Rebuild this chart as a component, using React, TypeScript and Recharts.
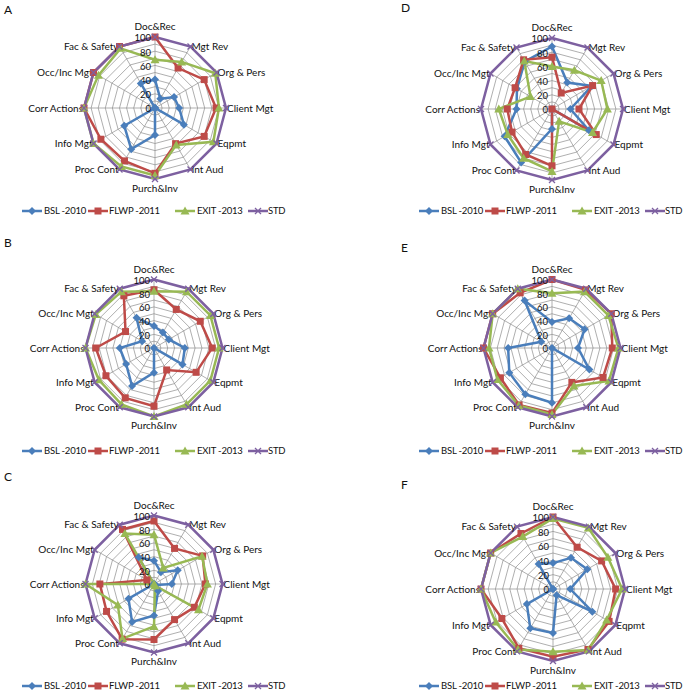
import React from "react";
import { RadarChart, Radar, PolarGrid, PolarAngleAxis, PolarRadiusAxis } from "recharts";

// audit areas around each radar, clockwise from the top
const categories = [
  "Doc&Rec", "Mgt Rev", "Org & Pers", "Client Mgt", "Eqpmt", "Int Aud",
  "Purch&Inv", "Proc Cont", "Info Mgt", "Corr Actions", "Occ/Inc Mgt", "Fac & Safety",
];
const seriesNames = ["BSL -2010", "FLWP -2011", "EXIT -2013", "STD"];
const radiusTicks = [0, 20, 40, 60, 80, 100];

// scores
const aBsl = [40, 15, 31, 34, 47, 0, 38, 67, 50, 0, 0, 40];
const aFlwp = [100, 65, 80, 86, 80, 58, 92, 86, 88, 100, 100, 100];
const aExit = [68, 75, 98, 90, 95, 60, 95, 95, 100, 100, 92, 97];

const bBsl = [32, 26, 25, 45, 48, 0, 36, 64, 47, 50, 20, 51];
const bFlwp = [85, 65, 78, 85, 71, 37, 85, 84, 81, 85, 48, 88];
const bExit = [83, 95, 95, 95, 95, 95, 100, 95, 93, 100, 98, 95];

const cBsl = [34, 20, 40, 26, 3, 12, 46, 64, 43, 0, 0, 45];
const cFlwp = [92, 60, 82, 75, 68, 60, 81, 93, 80, 79, 12, 92];
const cExit = [72, 27, 81, 78, 75, 3, 62, 92, 61, 100, 0, 85];

const dBsl = [88, 43, 65, 26, 60, 0, 28, 87, 77, 50, 57, 77];
const dFlwp = [73, 26, 66, 38, 72, 0, 80, 74, 65, 63, 60, 80];
const dExit = [60, 63, 80, 78, 66, 20, 88, 80, 72, 75, 35, 78];

const eBsl = [38, 50, 55, 38, 63, 0, 80, 78, 72, 64, 18, 80];
const eFlwp = [100, 98, 100, 88, 86, 58, 95, 96, 87, 100, 100, 93];
const eExit = [80, 95, 95, 97, 96, 64, 97, 97, 92, 92, 100, 100];

const fBsl = [36, 50, 55, 24, 63, 10, 61, 63, 42, 0, 0, 40];
const fFlwp = [100, 67, 78, 87, 90, 97, 94, 95, 82, 100, 100, 89];
const fExit = [98, 98, 88, 96, 86, 98, 87, 97, 92, 100, 100, 84];

const std = [100, 100, 100, 100, 100, 100, 100, 100, 100, 100, 100, 100];

const BLUE = "#4A7EBB";
const RED = "#BE4B48";
const GREEN = "#98B954";
const PURPLE = "#7D60A0";
const FONT = "Lato, 'Liberation Sans', sans-serif";

function buildRows(bsl: number[], flwp: number[], exit: number[]) {
  return categories.map((cat, i) => ({ cat, bsl: bsl[i], flwp: flwp[i], exit: exit[i], std: std[i] }));
}

const panels = [
  { id: "A", rows: buildRows(aBsl, aFlwp, aExit), left: 0, top: 0, cx: 155, cy: 108, r: 71, lx: 4, ly: 10, legY: 211 },
  { id: "B", rows: buildRows(bBsl, bFlwp, bExit), left: 0, top: 232, cx: 154, cy: 116, r: 68.5, lx: 4, ly: 243, legY: 451 },
  { id: "C", rows: buildRows(cBsl, cFlwp, cExit), left: 0, top: 465, cx: 154, cy: 119, r: 68.5, lx: 4, ly: 477, legY: 686 },
  { id: "D", rows: buildRows(dBsl, dFlwp, dExit), left: 345, top: 0, cx: 207, cy: 109, r: 71, lx: 401, ly: 8, legY: 211 },
  { id: "E", rows: buildRows(eBsl, eFlwp, eExit), left: 345, top: 232, cx: 207, cy: 116, r: 68.5, lx: 401, ly: 248, legY: 451 },
  { id: "F", rows: buildRows(fBsl, fFlwp, fExit), left: 345, top: 465, cx: 208, cy: 124, r: 72, lx: 401, ly: 485, legY: 686 },
];

function markerPath(kind: string, x: number, y: number, color: string, key?: any) {
  if (kind === "diamond")
    return <path key={key} d={`M${x},${y - 4}L${x + 4},${y}L${x},${y + 4}L${x - 4},${y}Z`} fill={color} />;
  if (kind === "square")
    return <rect key={key} x={x - 3.5} y={y - 3.5} width={7} height={7} fill={color} />;
  if (kind === "triangle")
    return <path key={key} d={`M${x},${y - 4.5}L${x + 4.5},${y + 3.5}L${x - 4.5},${y + 3.5}Z`} fill={color} />;
  return (
    <path key={key} d={`M${x - 3},${y - 3}L${x + 3},${y + 3}M${x + 3},${y - 3}L${x - 3},${y + 3}`}
      stroke={color} strokeWidth={1.3} fill="none" />
  );
}

const dotFor = (kind: string, color: string) => (props: any) => {
  const { cx, cy, index } = props;
  if (cx == null || cy == null) return <g key={index} />;
  return markerPath(kind, cx, cy, color, index);
};

const angleTick = (cx: number, cy: number, r: number) => (props: any) => {
  const { x, y, payload } = props;
  const dx = x - cx;
  const dy = y - cy;
  const len = Math.hypot(dx, dy) || 1;
  const ux = dx / len;
  const uy = dy / len;
  let tx = cx + ux * r;
  let ty = cy + uy * r;
  let anchor = "middle";
  if (Math.abs(ux) < 0.05) ty += uy > 0 ? 9 : -10.5;
  else if (ux > 0) { anchor = "start"; tx += 1; }
  else { anchor = "end"; tx -= 1; }
  return (
    <text x={tx} y={ty} dy="0.35em" textAnchor={anchor} fontSize={10} fontFamily={FONT} fill="#111">
      {payload.value}
    </text>
  );
};

const radiusTick = (props: any) => {
  const { x, y, payload } = props;
  return (
    <text x={x - 4} y={y + 1} dy="0.35em" textAnchor="end" fontSize={9.5} fontFamily={FONT} fill="#111">
      {payload.value}
    </text>
  );
};

const legendItems = [
  { name: seriesNames[0], color: BLUE, kind: "diamond", line: 0, text: 22 },
  { name: seriesNames[1], color: RED, kind: "square", line: 66, text: 87 },
  { name: seriesNames[2], color: GREEN, kind: "triangle", line: 153, text: 175 },
  { name: seriesNames[3], color: PURPLE, kind: "x", line: 226, text: 246 },
];

function Panel({ p }: { p: any }) {
  const rings = [1, 2, 3, 4, 5, 6, 7, 8, 9, 10].map((k) => (p.r * k) / 10);
  return (
    <div style={{ position: "absolute", left: p.left, top: p.top }}>
      <RadarChart width={344} height={232} data={p.rows} cx={p.cx} cy={p.cy} outerRadius={p.r}
        startAngle={90} endAngle={-270} margin={{ top: 0, right: 0, bottom: 0, left: 0 }}>
        <PolarGrid gridType="polygon" polarRadius={rings} stroke="#8c8c8c" strokeWidth={0.7} />
        <PolarAngleAxis dataKey="cat" tickLine={false} axisLine={false} tick={angleTick(p.cx, p.cy, p.r)} />
        <PolarRadiusAxis angle={90} domain={[0, 100]} ticks={radiusTicks} tickCount={6}
          axisLine={false} tickLine={false} tick={radiusTick} />
        <Radar dataKey="bsl" stroke={BLUE} strokeWidth={2.5} fill="none" dot={dotFor("diamond", BLUE)} isAnimationActive={false} />
        <Radar dataKey="flwp" stroke={RED} strokeWidth={2.5} fill="none" dot={dotFor("square", RED)} isAnimationActive={false} />
        <Radar dataKey="exit" stroke={GREEN} strokeWidth={2.5} fill="none" dot={dotFor("triangle", GREEN)} isAnimationActive={false} />
        <Radar dataKey="std" stroke={PURPLE} strokeWidth={2.5} fill="none" dot={dotFor("x", PURPLE)} isAnimationActive={false} />
      </RadarChart>
    </div>
  );
}

export default function App() {
  return (
    <div style={{ position: "absolute", left: 0, top: 0, width: 689, height: 697, background: "#fff" }}>
      {panels.map((p) => <Panel key={p.id} p={p} />)}
      <svg width={689} height={697} style={{ position: "absolute", left: 0, top: 0, pointerEvents: "none" }}>
        {panels.map((p) => {
          const base = p.left === 0 ? 22 : 419;
          return (
            <g key={p.id}>
              <text x={p.lx} y={p.ly} dy="0.35em" fontSize={12} fontFamily={FONT} fill="#111">{p.id}</text>
              {legendItems.map((it) => (
                <g key={it.name}>
                  <line x1={base + it.line} x2={base + it.line + 20} y1={p.legY} y2={p.legY} stroke={it.color} strokeWidth={2.5} />
                  {markerPath(it.kind, base + it.line + 10, p.legY, it.color)}
                  <text x={base + it.text} y={p.legY} dy="0.35em" fontSize={9.5} letterSpacing={-0.2}
                    fontFamily={FONT} fill="#111">{it.name}</text>
                </g>
              ))}
            </g>
          );
        })}
      </svg>
    </div>
  );
}
